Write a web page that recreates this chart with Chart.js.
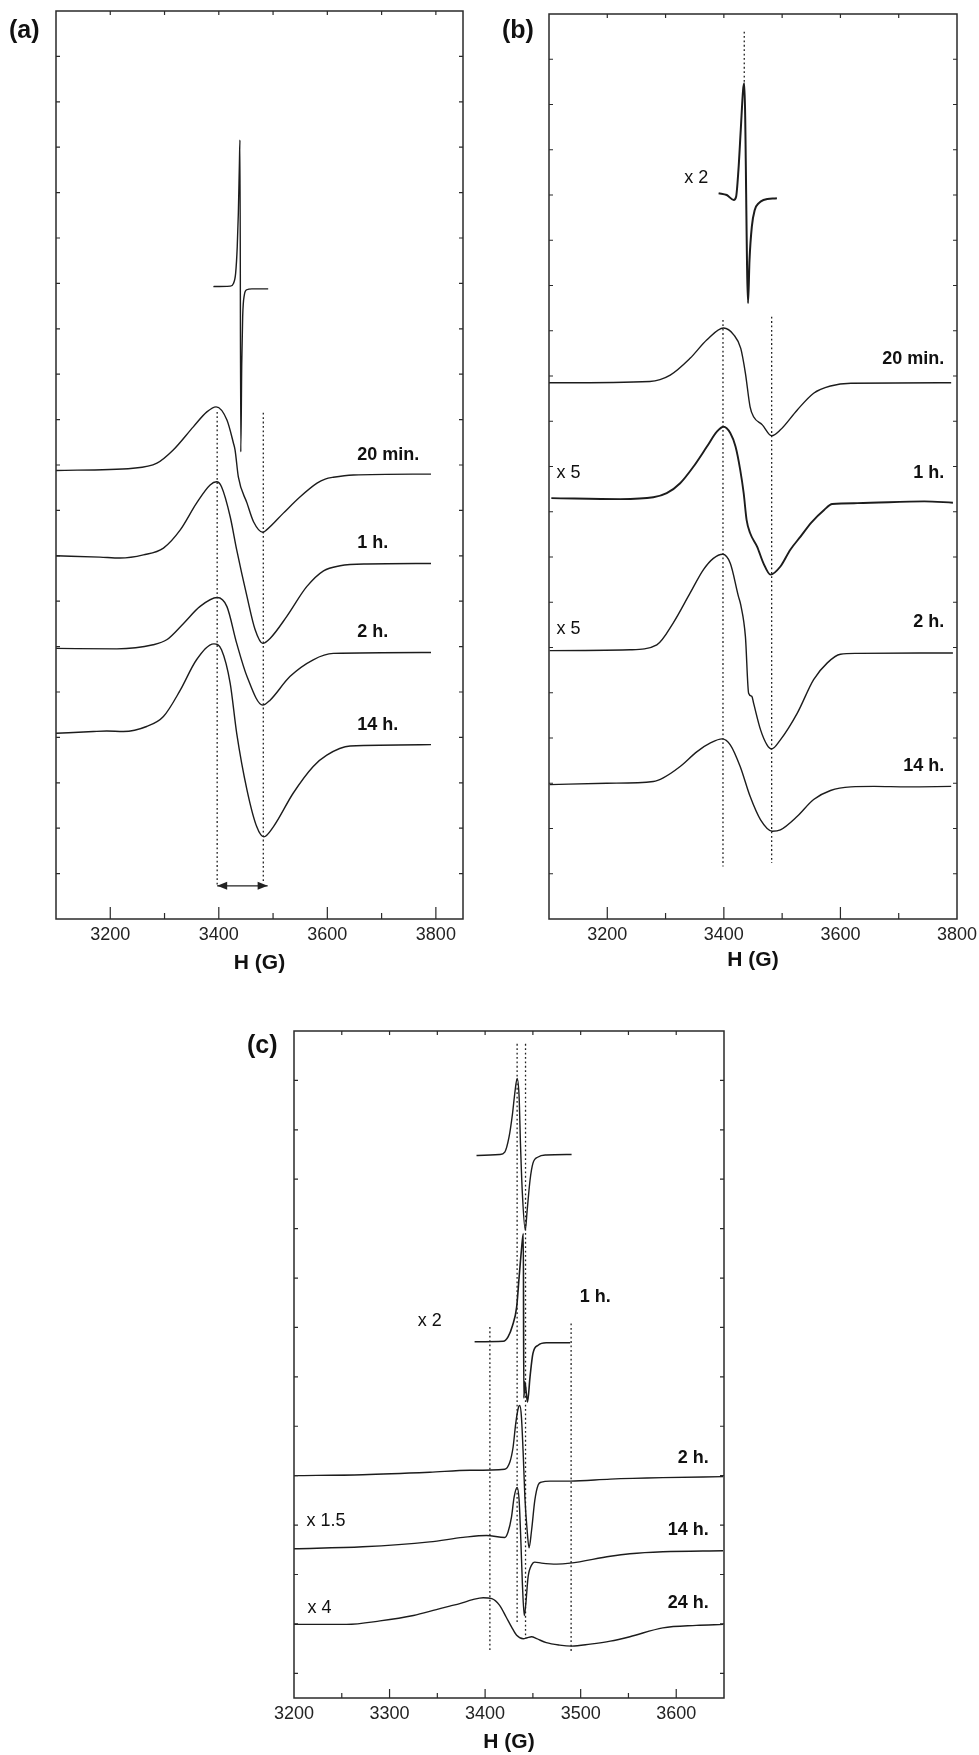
<!DOCTYPE html>
<html><head><meta charset="utf-8">
<script src="https://cdn.jsdelivr.net/npm/chart.js@4.4.1/dist/chart.umd.min.js"></script>
<style>
html,body{margin:0;padding:0;background:#fff;}
#page{position:relative;width:979px;height:1755px;overflow:hidden;background:#fff;font-family:"Liberation Sans",Arial,sans-serif;}
canvas{position:absolute;}
.tag{position:absolute;font-weight:bold;font-size:25px;line-height:1;color:#111;font-family:"Liberation Sans",Arial,sans-serif;}
</style></head>
<body><div id="page">
<canvas id="ca" width="490" height="990" style="left:0;top:0"></canvas>
<canvas id="cb" width="489" height="990" style="left:490px;top:0"></canvas>
<canvas id="cc" width="560" height="755" style="left:200px;top:1000px"></canvas>
<div class="tag" style="left:9px;top:17px">(a)</div>
<div class="tag" style="left:502px;top:17px">(b)</div>
<div class="tag" style="left:247px;top:1032px">(c)</div>
</div>
<script>
// ---------- Panel (a) ----------
const aNarrowH = [3390, 3421, 3427, 3431, 3434, 3436, 3438, 3439, 3440.5, 3442.3, 3444, 3447, 3451.5, 3461, 3491];
const aNarrowY = [13.93, 13.94, 14.00, 14.22, 14.81, 15.54, 16.65, 17.16, 10.29, 12.24, 13.27, 13.74, 13.86, 13.88, 13.88];
const a20minH = [3100, 3242, 3286, 3316, 3353, 3378, 3395, 3415, 3427, 3430, 3436, 3452, 3464, 3481, 3488, 3519, 3550, 3581, 3596, 3611, 3648, 3791];
const a20minY = [9.88, 9.93, 10.04, 10.33, 10.84, 11.17, 11.28, 10.99, 10.48, 10.33, 9.74, 9.16, 8.75, 8.52, 8.57, 8.94, 9.30, 9.60, 9.69, 9.73, 9.78, 9.80];
const a1hH = [3100, 3181, 3218, 3261, 3298, 3329, 3359, 3384, 3396, 3405, 3421, 3433, 3452, 3467, 3481, 3494.5, 3525, 3562, 3593, 3623.5, 3673, 3791];
const a1hY = [8.00, 7.97, 7.95, 8.02, 8.17, 8.57, 9.16, 9.56, 9.63, 9.52, 8.86, 8.13, 7.10, 6.37, 6.07, 6.18, 6.66, 7.32, 7.67, 7.78, 7.82, 7.83];
const a2hH = [3100, 3212, 3279, 3304, 3335, 3365, 3397, 3415, 3433, 3452, 3481, 3494.5, 3531, 3574, 3611, 3791];
const a2hY = [5.96, 5.95, 6.04, 6.15, 6.51, 6.88, 7.08, 6.88, 6.07, 5.34, 4.71, 4.82, 5.34, 5.71, 5.85, 5.87];
const a14hH = [3100, 3169, 3193.5, 3224, 3267, 3298, 3329, 3359, 3391, 3405, 3421, 3433, 3452, 3470, 3483, 3500.5, 3537, 3574, 3599, 3642, 3791];
const a14hY = [4.09, 4.13, 4.14, 4.13, 4.24, 4.46, 5.04, 5.71, 6.06, 5.93, 5.19, 4.09, 2.84, 2.03, 1.81, 2.03, 2.77, 3.36, 3.61, 3.81, 3.84];
const aGuide1H = [3397, 3397], aGuide1Y = [11.17, 0.71];
const aGuide2H = [3482, 3482], aGuide2Y = [11.15, 0.79];
const aArrowH = [3397, 3490], aArrowY = [0.73, 0.73];
const aTickLabels = [3200, 3400, 3600, 3800];

// ---------- Panel (b) ----------
const bNarrowH = [3391, 3405, 3417, 3421, 3425, 3429, 3433, 3435, 3441.5, 3444, 3448, 3453, 3460, 3468, 3491];
const bNarrowY = [16.04, 16.00, 15.89, 15.96, 16.55, 17.44, 18.32, 18.47, 13.61, 14.56, 15.30, 15.67, 15.82, 15.89, 15.93];
const b20minH = [3100, 3273, 3308, 3342, 3371, 3399.5, 3417, 3429, 3437, 3445, 3451, 3466, 3482, 3497, 3526, 3554, 3583, 3618, 3790];
const b20minY = [11.85, 11.88, 12.02, 12.39, 12.80, 13.06, 12.91, 12.61, 12.06, 11.32, 11.10, 10.92, 10.68, 10.81, 11.25, 11.62, 11.78, 11.84, 11.85];
const b1hH = [3104, 3222, 3279, 3302, 3325, 3348, 3371, 3388, 3399.5, 3411, 3420, 3428, 3434, 3439, 3445, 3457, 3468, 3480, 3497, 3514, 3531.5, 3550, 3572, 3586, 3629, 3744, 3793];
const b1hY = [9.30, 9.28, 9.32, 9.41, 9.63, 10.00, 10.44, 10.77, 10.88, 10.74, 10.44, 9.93, 9.41, 8.82, 8.53, 8.23, 7.86, 7.61, 7.79, 8.16, 8.45, 8.76, 9.04, 9.17, 9.19, 9.23, 9.20];
const b2hH = [3101, 3239, 3285, 3313, 3342, 3365, 3382, 3398, 3411, 3425, 3429, 3437, 3442.5, 3448, 3451, 3463, 3474, 3482, 3497, 3526, 3554, 3577.5, 3600, 3629, 3793];
const b2hY = [5.93, 5.95, 6.06, 6.54, 7.20, 7.72, 7.97, 8.06, 7.86, 7.13, 6.94, 6.24, 4.99, 4.92, 4.77, 4.18, 3.85, 3.76, 3.96, 4.55, 5.29, 5.66, 5.85, 5.87, 5.88];
const b14hH = [3101, 3199, 3279, 3296, 3325, 3354, 3377, 3397, 3411, 3428, 3445, 3463, 3483, 3497, 3526, 3554, 3583, 3618, 3658, 3715, 3790];
const b14hY = [2.97, 3.00, 3.04, 3.12, 3.37, 3.70, 3.89, 3.98, 3.85, 3.37, 2.71, 2.19, 1.94, 1.97, 2.27, 2.64, 2.84, 2.92, 2.93, 2.92, 2.93];
const bGuide1H = [3435, 3435], bGuide1Y = [19.61, 18.47];
const bGuide2H = [3398.5, 3398.5], bGuide2Y = [13.24, 1.16];
const bGuide3H = [3482, 3482], bGuide3Y = [13.31, 1.24];
const bTickLabels = [3200, 3400, 3600, 3800];

// ---------- Panel (c) ----------
const cTopH = [3391, 3415, 3420.6, 3425, 3428.7, 3431, 3433.5, 3435.6, 3437, 3439, 3442, 3444, 3447, 3450, 3455.5, 3464, 3490.5];
const cTopY = [10.48, 10.50, 10.55, 10.85, 11.33, 11.73, 12.04, 11.66, 10.72, 9.71, 8.97, 9.37, 9.98, 10.32, 10.45, 10.49, 10.50];
const c1hH = [3389, 3419, 3424, 3428.7, 3433, 3435.6, 3438, 3440, 3440.5, 3441.6, 3443, 3444.4, 3447, 3450, 3455.5, 3464, 3489];
const c1hY = [6.71, 6.72, 6.81, 7.04, 7.41, 8.02, 8.56, 8.90, 5.57, 5.90, 5.69, 5.49, 6.00, 6.47, 6.64, 6.69, 6.69];
const c2hH = [3200, 3272, 3342, 3384, 3420.6, 3426, 3429.3, 3432, 3434.6, 3436.3, 3438, 3440, 3441.6, 3444, 3446, 3448.6, 3452, 3455.5, 3459, 3468, 3489, 3531, 3586, 3649];
const c2hY = [4.00, 4.02, 4.07, 4.11, 4.13, 4.28, 4.58, 5.05, 5.36, 5.42, 5.19, 4.38, 3.57, 2.89, 2.54, 2.89, 3.50, 3.81, 3.87, 3.89, 3.89, 3.93, 3.96, 3.98];
const c14hH = [3200, 3272, 3342, 3377, 3401.5, 3420.6, 3424, 3427.6, 3430.4, 3433.5, 3435.6, 3437.4, 3439, 3441, 3442.6, 3445, 3448.6, 3452, 3459, 3475, 3489, 3531, 3551.5, 3586, 3649];
const c14hY = [2.52, 2.56, 2.66, 2.75, 2.79, 2.75, 2.86, 3.16, 3.57, 3.76, 3.50, 2.69, 1.82, 1.17, 1.41, 1.95, 2.19, 2.25, 2.23, 2.21, 2.23, 2.37, 2.42, 2.46, 2.48];
const c24hH = [3200, 3255, 3290, 3325, 3349, 3363, 3373.5, 3387, 3398, 3407, 3415, 3422, 3427.6, 3433, 3440, 3444, 3448.6, 3454, 3464, 3478, 3490.5, 3510, 3531, 3551.5, 3586, 3621, 3649];
const c24hY = [0.99, 0.99, 1.06, 1.17, 1.29, 1.36, 1.41, 1.49, 1.53, 1.51, 1.38, 1.14, 0.94, 0.77, 0.70, 0.72, 0.74, 0.70, 0.62, 0.57, 0.55, 0.59, 0.65, 0.74, 0.92, 0.97, 0.99];
const cGuide1H = [3405, 3405], cGuide1Y = [7.01, 0.47];
const cGuide2H = [3433.5, 3433.5], cGuide2Y = [12.74, 1.01];
const cGuide3H = [3442.3, 3442.3], cGuide3Y = [12.74, 0.71];
const cGuide4H = [3490, 3490], cGuide4Y = [7.08, 0.40];
const cTickLabels = [3200, 3300, 3400, 3500, 3600];

// ---------- helpers ----------
const FONT = '"Liberation Sans", Arial, sans-serif';
const INK = '#1c1c1c';
function pts(h, v) { return h.map((x, i) => ({x: x, y: v[i]})); }
function curve(h, v, w) {
  return {data: pts(h, v), borderColor: INK, borderWidth: w || 1.4, pointRadius: 0, fill: false,
          cubicInterpolationMode: 'monotone'};
}
function guide(h, v) {
  return {data: pts(h, v), borderColor: '#222', borderWidth: 1.3, borderDash: [1.8, 2.6], pointRadius: 0,
          fill: false, tension: 0};
}
function arrow(h, v) {
  return {data: pts(h, v), borderColor: '#222', borderWidth: 1.3, pointRadius: 0, fill: false, tension: 0, arrowHeads: true};
}

// per-panel decoration (annotation texts placed in data coordinates, tick styles)
const decor = {
  ca: {xMinorStep: 100, majorLen: 12, minorLen: 6, labels: aTickLabels,
       notes: [
         {t: '20 min.', x: 3655, y: 10.21, align: 'left', bold: true},
         {t: '1 h.', x: 3655, y: 8.28, align: 'left', bold: true},
         {t: '2 h.', x: 3655, y: 6.32, align: 'left', bold: true},
         {t: '14 h.', x: 3655, y: 4.27, align: 'left', bold: true}]},
  cb: {xMinorStep: 100, majorLen: 12, minorLen: 6, labels: bTickLabels,
       notes: [
         {t: '20 min.', x: 3778, y: 12.38, align: 'right', bold: true},
         {t: '1 h.', x: 3778, y: 9.86, align: 'right', bold: true},
         {t: '2 h.', x: 3778, y: 6.57, align: 'right', bold: true},
         {t: '14 h.', x: 3778, y: 3.39, align: 'right', bold: true},
         {t: 'x 2', x: 3332, y: 16.38, align: 'left', bold: false},
         {t: 'x 5', x: 3113, y: 9.86, align: 'left', bold: false},
         {t: 'x 5', x: 3113, y: 6.41, align: 'left', bold: false}]},
  cc: {xMinorStep: 50, majorLen: 9, minorLen: 5, labels: cTickLabels,
       notes: [
         {t: '1 h.', x: 3499, y: 7.61, align: 'left', bold: true},
         {t: 'x 2', x: 3329.5, y: 7.12, align: 'left', bold: false},
         {t: '2 h.', x: 3634, y: 4.35, align: 'right', bold: true},
         {t: '14 h.', x: 3634, y: 2.89, align: 'right', bold: true},
         {t: '24 h.', x: 3634, y: 1.42, align: 'right', bold: true},
         {t: 'x 1.5', x: 3213, y: 3.08, align: 'left', bold: false},
         {t: 'x 4', x: 3214, y: 1.32, align: 'left', bold: false}]}
};

const eprPlugin = {
  id: 'eprDecor',
  afterDraw(chart) {
    const d = decor[chart.canvas.id];
    const ctx = chart.ctx;
    const {left, right, top, bottom} = chart.chartArea;
    const xs = chart.scales.x, ys = chart.scales.y;
    ctx.save();
    ctx.strokeStyle = '#2a2a2a';
    ctx.lineWidth = 1.5;
    ctx.strokeRect(left, top, right - left, bottom - top);
    ctx.lineWidth = 1.2;
    ctx.beginPath();
    xs.ticks.forEach(t => {
      if (Math.abs(t.value % d.xMinorStep) > 1e-6) return;
      const px = xs.getPixelForValue(t.value);
      if (px < left + 1 || px > right - 1) return;
      const len = d.labels.includes(t.value) ? d.majorLen : d.minorLen;
      ctx.moveTo(px, bottom); ctx.lineTo(px, bottom - len);
      ctx.moveTo(px, top); ctx.lineTo(px, top + 4);
    });
    ys.ticks.forEach(t => {
      if (!Number.isInteger(t.value)) return;
      const py = ys.getPixelForValue(t.value);
      if (py < top + 1 || py > bottom - 1) return;
      ctx.moveTo(left, py); ctx.lineTo(left + 4, py);
      ctx.moveTo(right, py); ctx.lineTo(right - 4, py);
    });
    ctx.stroke();
    // arrow heads
    chart.data.datasets.forEach((ds, i) => {
      if (!ds.arrowHeads) return;
      const meta = chart.getDatasetMeta(i);
      const p0 = meta.data[0], p1 = meta.data[meta.data.length - 1];
      ctx.fillStyle = '#222';
      ctx.beginPath();
      ctx.moveTo(p0.x, p0.y); ctx.lineTo(p0.x + 10, p0.y - 4); ctx.lineTo(p0.x + 10, p0.y + 4); ctx.closePath();
      ctx.moveTo(p1.x, p1.y); ctx.lineTo(p1.x - 10, p1.y - 4); ctx.lineTo(p1.x - 10, p1.y + 4); ctx.closePath();
      ctx.fill();
    });
    // annotations
    ctx.fillStyle = '#111';
    ctx.textBaseline = 'middle';
    d.notes.forEach(n => {
      ctx.font = (n.bold ? 'bold ' : '') + '18px ' + FONT;
      ctx.textAlign = n.align;
      ctx.fillText(n.t, xs.getPixelForValue(n.x), ys.getPixelForValue(n.y));
    });
    ctx.restore();
  }
};

function makeChart(id, c) {
  return new Chart(document.getElementById(id), {
    type: 'line',
    data: {datasets: c.datasets},
    options: {
      responsive: false, animation: false, events: [],
      layout: {padding: c.padding},
      plugins: {legend: {display: false}, tooltip: {enabled: false}},
      scales: {
        x: {
          type: 'linear', min: c.xMin, max: c.xMax,
          afterBuildTicks: function (s) {
            const list = [];
            for (let v = c.xMin; v <= c.xMax + 1e-6; v += c.xStep) list.push({value: v});
            s.ticks = list;
          },
          afterFit: function (s) { s.height = c.xHeight; s.paddingLeft = 0; s.paddingRight = 0; },
          grid: {display: false, drawTicks: false}, border: {display: false},
          ticks: {autoSkip: false, maxRotation: 0, minRotation: 0, padding: 5, color: '#222',
                  font: {family: FONT, size: 18},
                  callback: function (v) { return c.labels.includes(v) ? String(v) : ''; }},
          title: {display: true, text: 'H (G)', color: '#111', font: {family: FONT, size: 21, weight: 'bold'},
                  padding: {top: 0, bottom: c.titlePad}}
        },
        y: {
          type: 'linear', min: c.yMin, max: c.yMax,
          afterFit: function (s) { s.width = 0; s.paddingTop = 0; s.paddingBottom = 0; },
          grid: {display: false, drawTicks: false}, border: {display: false},
          ticks: {display: false, stepSize: 1}
        }
      }
    },
    plugins: [eprPlugin]
  });
}

makeChart('ca', {
  xMin: 3100, xMax: 3850, xStep: 100, yMin: 0, yMax: 20, labels: aTickLabels,
  padding: {left: 56, top: 11, right: 27, bottom: 0}, xHeight: 71, titlePad: 14,
  datasets: [
    curve(aNarrowH, aNarrowY), curve(a20minH, a20minY), curve(a1hH, a1hY), curve(a2hH, a2hY), curve(a14hH, a14hY),
    guide(aGuide1H, aGuide1Y), guide(aGuide2H, aGuide2Y), arrow(aArrowH, aArrowY)
  ]
});
makeChart('cb', {
  xMin: 3100, xMax: 3800, xStep: 100, yMin: 0, yMax: 20, labels: bTickLabels,
  padding: {left: 59, top: 14, right: 22, bottom: 0}, xHeight: 71, titlePad: 17,
  datasets: [
    curve(bNarrowH, bNarrowY, 2.0), curve(b20minH, b20minY), curve(b1hH, b1hY, 1.9), curve(b2hH, b2hY), curve(b14hH, b14hY),
    guide(bGuide1H, bGuide1Y), guide(bGuide2H, bGuide2Y), guide(bGuide3H, bGuide3Y)
  ]
});
makeChart('cc', {
  xMin: 3200, xMax: 3650, xStep: 50, yMin: -0.5, yMax: 13, labels: cTickLabels,
  padding: {left: 94, top: 31, right: 36, bottom: 0}, xHeight: 57, titlePad: 0,
  datasets: [
    curve(cTopH, cTopY), curve(c1hH, c1hY, 1.6), curve(c2hH, c2hY), curve(c14hH, c14hY), curve(c24hH, c24hY),
    guide(cGuide1H, cGuide1Y), guide(cGuide2H, cGuide2Y), guide(cGuide3H, cGuide3Y), guide(cGuide4H, cGuide4Y)
  ]
});
</script>
</body></html>
